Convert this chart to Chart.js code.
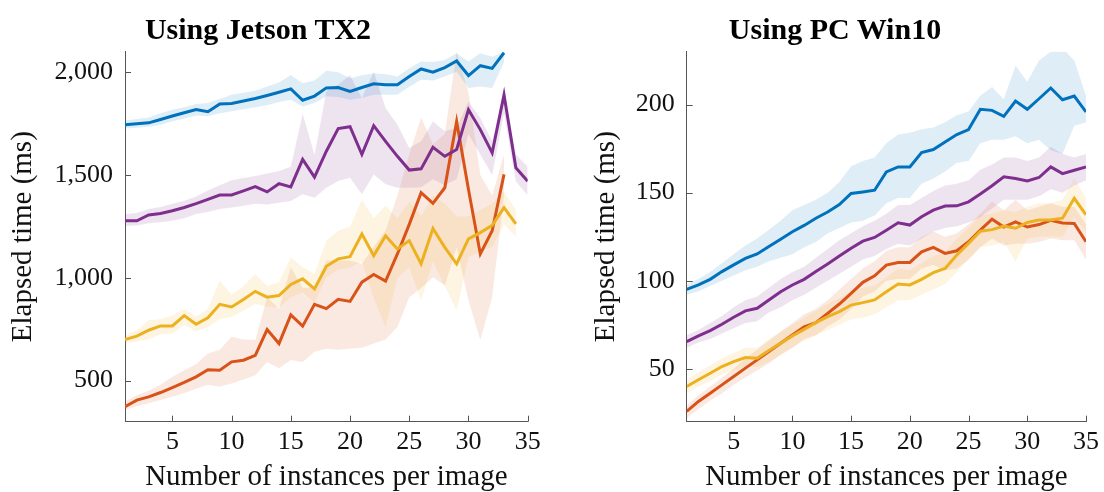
<!DOCTYPE html>
<html>
<head>
<meta charset="utf-8">
<script src="https://cdn.jsdelivr.net/npm/chart.js@4.4.1/dist/chart.umd.min.js"></script>
<style>
  body { margin: 0; background: #fff; }
  #figure { position: relative; width: 1104px; height: 492px; overflow: hidden; }
  .panel { position: absolute; top: 0; width: 552px; height: 492px; }
  .panel-title {
    position: absolute; top: 14px; transform: translateX(-50%); white-space: nowrap;
    font: bold 30px/30px "Liberation Serif", serif; color: #000;
  }
</style>
</head>
<body>
<div id="figure">
  <div class="panel" style="left:0"><canvas id="tx2-chart" width="552" height="492"></canvas></div>
  <div class="panel" style="left:552px"><canvas id="pc-chart" width="552" height="492"></canvas></div>
  <div class="panel-title" style="left:258px">Using Jetson TX2</div>
  <div class="panel-title" style="left:835px">Using PC Win10</div>
</div>
<script>
// number of instances per image (x categories)
const instances = [1, 2, 3, 4, 5, 6, 7, 8, 9, 10, 11, 12, 13, 14, 15, 16, 17, 18, 19, 20,
                   21, 22, 23, 24, 25, 26, 27, 28, 29, 30, 31, 32, 33, 34, 35];
const xTicks = [5, 10, 15, 20, 25, 30, 35];
const tx2Ticks = [500, 1000, 1500, 2000];
const pcTicks = [50, 100, 150, 200];

// Jetson TX2 (ms) - mean line and shaded band
const tx2Blue   = [1745,1749,1754,1770,1787,1803,1819,1808,1846,1848,1860,1872,1887,1903,1919,1864,1884,1924,1926,1907,1926,1944,1939,1939,1979,2016,2000,2023,2055,1984,2032,2019,2095,null,null];
const tx2BlueHi = [1765,1772,1780,1800,1818,1830,1845,1850,1870,1890,1900,1910,1931,1950,1987,1947,1960,2007,2000,1971,1985,1995,1990,1979,2020,2052,2050,2060,2092,2052,2092,2076,2100,null,null];
const tx2BlueLo = [1726,1730,1735,1745,1762,1775,1790,1786,1800,1810,1820,1830,1840,1855,1866,1834,1850,1883,1880,1866,1875,1890,1890,1890,1930,1963,1960,1979,2003,1923,1931,1923,2050,null,null];

const tx2Red   = [373,405,421,442,466,491,518,553,550,591,599,623,748,680,820,765,871,850,895,885,979,1016,984,1116,1260,1414,1362,1438,1761,1430,1116,1229,1503,null,null];
const tx2RedHi = [398,430,450,480,519,550,580,632,650,713,700,697,906,850,1051,950,954,1084,1084,1084,1068,1150,1230,1400,1600,1780,1650,1700,2100,1900,1500,1400,1600,null,null];
const tx2RedLo = [357,375,390,405,421,440,460,480,470,486,505,526,590,560,600,590,640,655,650,655,660,680,700,761,906,950,1003,963,1148,890,697,906,1400,null,null];

const tx2Yellow   = [700,716,745,766,766,816,774,806,871,858,895,934,906,914,968,995,946,1056,1092,1103,1213,1108,1205,1140,1181,1068,1240,1148,1068,1189,1220,1255,1341,1262,null];
const tx2YellowHi = [720,745,793,800,817,850,810,850,987,916,960,1019,960,980,1100,1051,1020,1181,1229,1250,1380,1290,1350,1290,1370,1300,1400,1360,1300,1300,1330,1360,1420,1330,null];
const tx2YellowLo = [680,690,700,725,728,770,740,760,800,809,840,873,860,857,906,930,880,1003,1040,1050,1080,900,760,1000,1050,890,1080,960,841,1099,1130,1150,1260,1200,null];

const tx2Purple   = [1277,1277,1306,1313,1326,1342,1361,1382,1403,1403,1423,1444,1418,1458,1442,1576,1490,1616,1726,1735,1600,1740,1664,1591,1524,1530,1635,1591,1624,1818,1721,1608,1890,1535,1470];
const tx2PurpleHi = [1310,1315,1335,1345,1360,1375,1395,1425,1450,1475,1485,1495,1508,1520,1540,1798,1597,1907,1939,1987,1874,2003,1826,1745,1632,1664,1761,1713,1729,1858,1777,1664,1907,1600,1540];
const tx2PurpleLo = [1252,1255,1265,1270,1277,1290,1310,1320,1335,1342,1350,1360,1357,1365,1374,1406,1390,1438,1471,1487,1406,1503,1455,1438,1438,1440,1480,1450,1480,1700,1600,1500,1800,1470,1400];

// PC Win10 (ms)
const pcBlue   = [95.1,97.6,100.8,105.2,109,112.7,115.2,119.4,123.5,127.8,131.4,135.5,139,143.2,149.5,150.4,151.4,161.8,164.6,164.6,172.8,174.5,178.8,183,185.8,197.3,196.7,193.3,202,197.3,203.3,209.4,202.7,204.8,195.8];
const pcBlueHi = [98,101,105,110,115,120,124,129,134,140,143,146,150,156,165,168,170,178,183,184,186,187,190,194,196,205,210,203,222,213,225,230,232,225,205];
const pcBlueLo = [92,94,97,100,103,106,108,111,113,115,119,122,127,130,133,134,137,144,147,147,155,158,162,167,168,178,180,180,182,178,180,174,172,188,190];

const pcRed   = [25.8,31.5,36.2,40.9,45.6,50.4,55.1,59.8,64.5,69.2,73.9,76.2,81.5,86.8,92.8,99.1,102.8,108.9,110.4,110.4,116.4,118.9,115.5,117,122.1,128.7,134.9,130.5,133.4,130.5,131.9,134.3,132.8,132.5,122.1];
const pcRedHi = [29,35,40,45,50,56,61,66,71,76,81,84,89,95,101,107,111,117,119,119,125,128,125,127,132,138,145,140,146,140,142,144,142,142,132];
const pcRedLo = [22,27,32,36,41,45,49,53,58,62,67,69,74,78,84,91,94,100,101,101,107,109,106,107,112,119,124,120,121,121,122,124,123,123,112];

const pcYellow   = [40,43.8,47.5,51.3,54.1,56.4,56,60.4,64.5,68.7,72.4,76.2,79.6,82.5,86.2,87.6,89.1,93.8,98.2,97.6,100.8,104.6,107,114.6,121.2,128.1,129,131.1,129.8,133.1,134.5,134.5,135.5,146.8,137.4];
const pcYellowHi = [44,48,52,56,59,62,62,67,71,75,79,83,87,90,94,96,97,102,107,106,110,114,116,124,130,137,138,140,139,142,144,144,146,158,147];
const pcYellowLo = [36,40,43,47,49,51,51,54,58,62,66,69,72,75,78,79,81,85,89,89,92,95,98,105,112,119,120,122,111,124,125,125,125,136,128];

const pcPurple   = [65.5,68.7,71.7,75.3,79.3,82.9,84.4,89.1,93.8,97.6,100.8,105.2,109.5,114,118.4,122.5,124.6,128.7,132.9,131.6,136.3,140.1,142.4,142.5,144.8,149.2,153.9,159,158,156.7,158.6,164.6,160.8,162.7,164.6];
const pcPurpleHi = [69,72,76,80,85,89,91,96,101,105,108,113,118,123,127,131,134,138,143,143,147,151,154,155,157,163,166,170,170,168,170,176,172,170,172];
const pcPurpleLo = [62,65,67,70,73,76,77,82,85,89,92,96,100,104,108,112,114,118,121,120,124,128,130,131,133,136,141,146,146,146,148,152,150,154,157];

const serif = '"Liberation Serif", serif';
const axisGrey = '#555';
const colors = [[0, 114, 189], [217, 83, 25], [237, 177, 32], [126, 47, 142]];

function points(values) {
    return instances.map((x, i) => ({ x: x, y: values[i] }));
}

// MATLAB style: ticks point into the plot
const inwardTicks = {
    id: 'inwardTicks',
    afterDatasetsDraw(chart) {
        const { ctx, chartArea, scales } = chart;
        ctx.save();
        ctx.strokeStyle = axisGrey;
        ctx.lineWidth = 1;
        ctx.beginPath();
        scales.x.ticks.forEach(t => {
            const px = Math.round(scales.x.getPixelForValue(t.value)) + 0.5;
            ctx.moveTo(px, chartArea.bottom);
            ctx.lineTo(px, chartArea.bottom - 6);
        });
        scales.y.ticks.forEach(t => {
            const py = Math.round(scales.y.getPixelForValue(t.value)) + 0.5;
            ctx.moveTo(chartArea.left, py);
            ctx.lineTo(chartArea.left + 6, py);
        });
        ctx.stroke();
        ctx.restore();
    }
};

function buildPanel(canvas, series, yMin, yMax, yTicks, box) {
    const datasets = [];
    series.forEach((s, i) => {
        const [r, g, b] = colors[i];
        datasets.push({
            data: points(s.hi), fill: '+1', backgroundColor: `rgba(${r},${g},${b},0.13)`,
            borderWidth: 0, pointRadius: 0, order: 10
        });
        datasets.push({
            data: points(s.lo), fill: false, borderWidth: 0, pointRadius: 0, order: 10
        });
        datasets.push({
            data: points(s.mean), fill: false, borderColor: `rgb(${r},${g},${b})`,
            borderWidth: 3, pointRadius: 0, order: 4 - i
        });
    });

    new Chart(canvas, {
        type: 'line',
        data: { datasets: datasets },
        options: {
            responsive: false,
            animation: false,
            layout: { padding: { left: 0, right: box.right, top: box.top, bottom: 0 } },
            plugins: { legend: { display: false }, tooltip: { enabled: false }, title: { display: false } },
            scales: {
                x: {
                    type: 'linear', min: 1, max: 35,
                    afterBuildTicks: s => { s.ticks = xTicks.map(v => ({ value: v })); },
                    afterFit: s => { s.height = box.xAxisHeight; },
                    grid: { display: true, drawOnChartArea: false, drawTicks: false },
                    border: { display: true, color: axisGrey, width: 1 },
                    ticks: { color: '#111', font: { family: serif, size: 26 }, padding: 5, maxRotation: 0, autoSkip: false },
                    title: {
                        display: true, text: 'Number of instances per image', color: '#111',
                        font: { family: serif, size: 29, lineHeight: 1 }, padding: { top: 0, bottom: 0 }
                    }
                },
                y: {
                    type: 'linear', min: yMin, max: yMax,
                    afterBuildTicks: s => { s.ticks = yTicks.map(v => ({ value: v })); },
                    afterFit: s => { s.width = box.yAxisWidth; },
                    grid: { display: true, drawOnChartArea: false, drawTicks: false },
                    border: { display: true, color: axisGrey, width: 1 },
                    ticks: {
                        color: '#111', font: { family: serif, size: 26 }, padding: 12, autoSkip: false,
                        callback: v => v.toLocaleString('en-US')
                    },
                    title: {
                        display: true, text: 'Elapsed time (ms)', color: '#111',
                        font: { family: serif, size: 29, lineHeight: 1 }, padding: { top: box.yTitlePad, bottom: 0 }
                    }
                }
            }
        },
        plugins: [inwardTicks]
    });
}

addEventListener('DOMContentLoaded', () => {
    buildPanel(document.getElementById('tx2-chart'), [
        { mean: tx2Blue, hi: tx2BlueHi, lo: tx2BlueLo },
        { mean: tx2Red, hi: tx2RedHi, lo: tx2RedLo },
        { mean: tx2Yellow, hi: tx2YellowHi, lo: tx2YellowLo },
        { mean: tx2Purple, hi: tx2PurpleHi, lo: tx2PurpleLo }
    ], 300, 2100, tx2Ticks, { top: 51.7, right: 24.3, yAxisWidth: 125, xAxisHeight: 70.3, yTitlePad: 9 });

    buildPanel(document.getElementById('pc-chart'), [
        { mean: pcBlue, hi: pcBlueHi, lo: pcBlueLo },
        { mean: pcRed, hi: pcRedHi, lo: pcRedLo },
        { mean: pcYellow, hi: pcYellowHi, lo: pcYellowLo },
        { mean: pcPurple, hi: pcPurpleHi, lo: pcPurpleLo }
    ], 20, 230, pcTicks, { top: 51.7, right: 15.3, yAxisWidth: 134.7, xAxisHeight: 70.3, yTitlePad: 39.5 });
});
</script>
</body>
</html>
